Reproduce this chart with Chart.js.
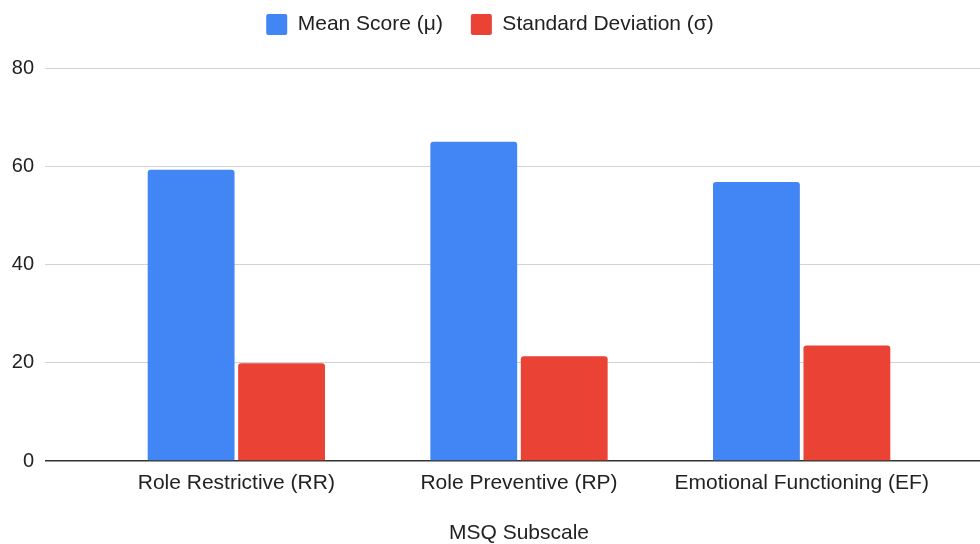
<!DOCTYPE html>
<html>
<head>
<meta charset="utf-8">
<script src="https://cdn.jsdelivr.net/npm/chart.js@4/dist/chart.umd.min.js"></script>
<style>
  html, body { margin: 0; padding: 0; background: #fff; }
  #wrap { width: 980px; height: 544px; }
</style>
</head>
<body>
<div id="wrap"><canvas id="chart" width="980" height="544"></canvas></div>
<script>
// MSQ subscale scores
const categories = ['Role Restrictive (RR)', 'Role Preventive (RP)', 'Emotional Functioning (EF)'];
const meanScores = [59.3, 65.0, 56.8];
const stdDeviations = [19.9, 21.3, 23.5];
const seriesNames = ['Mean Score (\u03bc)', 'Standard Deviation (\u03c3)'];
const yMin = 0;
const yMax = 80;
const yStep = 20;
const xTitle = 'MSQ Subscale';

const FONT = 'Arial, "Liberation Sans", Helvetica, sans-serif';
const TEXT = '#222222';
const GRID = '#d3d3d3';
const ZERO = '#333333';

const gridColor = ctx => (ctx.tick && ctx.tick.value === 0 ? ZERO : GRID);
const gridWidth = ctx => (ctx.tick && ctx.tick.value === 0 ? 1.5 : 1);

// leave extra room between the legend row and the plot area
const legendSpacer = {
  id: 'legendSpacer',
  afterInit(chart) {
    const lg = chart.legend;
    if (!lg || lg._spaced) return;
    const fit = lg.fit.bind(lg);
    lg.fit = function () { fit(); this.height = 82; };
    lg._spaced = true;
  }
};

new Chart(document.getElementById('chart'), {
  type: 'bar',
  data: {
    labels: categories,
    datasets: [
      { label: seriesNames[0], data: meanScores, backgroundColor: '#4285F4', borderRadius: 3,
        categoryPercentage: 0.64, barPercentage: 0.96 },
      { label: seriesNames[1], data: stdDeviations, backgroundColor: '#EA4335', borderRadius: 3,
        categoryPercentage: 0.64, barPercentage: 0.96 }
    ]
  },
  options: {
    responsive: false,
    animation: false,
    layout: { padding: { top: -14, right: 0, bottom: 0, left: 0 } },
    plugins: {
      legend: {
        position: 'top',
        labels: {
          font: { family: FONT, size: 21 },
          color: TEXT,
          boxWidth: 21,
          boxHeight: 21,
          padding: 28,
          useBorderRadius: true,
          borderRadius: 2
        }
      },
      tooltip: { enabled: false }
    },
    scales: {
      x: {
        grid: { display: false, drawTicks: false },
        border: { display: false },
        ticks: { font: { family: FONT, size: 21 }, color: TEXT, padding: 10, maxRotation: 0 },
        title: { display: true, text: xTitle, font: { family: FONT, size: 21 }, color: TEXT,
                 padding: { top: 0, bottom: -2 } },
        afterFit(scale) { scale.height = 83; }
      },
      y: {
        position: 'left',
        min: yMin, max: yMax,
        ticks: { stepSize: yStep, font: { family: FONT, size: 20 }, color: TEXT, padding: 11 },
        grid: { color: gridColor, lineWidth: gridWidth, tickLength: 50, tickColor: gridColor },
        border: { display: false },
        afterFit(scale) { scale.width = 95; }
      },
      yRight: {
        position: 'right',
        min: yMin, max: yMax,
        ticks: { stepSize: yStep, display: false },
        grid: { drawOnChartArea: false, color: gridColor, lineWidth: gridWidth, tickLength: 37, tickColor: gridColor },
        border: { display: false },
        afterFit(scale) { scale.width = 37; }
      }
    }
  },
  plugins: [legendSpacer]
});
</script>
</body>
</html>
